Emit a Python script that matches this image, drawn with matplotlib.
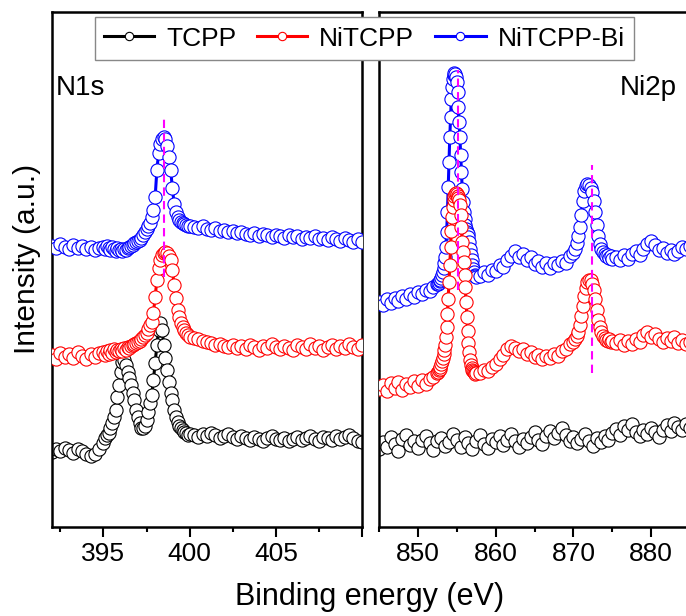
import numpy as np
import matplotlib.pyplot as plt
from matplotlib.lines import Line2D
from matplotlib.ticker import AutoMinorLocator

plt.rcParams['font.family'] = ['Liberation Sans', 'DejaVu Sans']

labels = ['TCPP', 'NiTCPP', 'NiTCPP-Bi']
colors = ['black', 'red', 'blue']

# N1s panel: energy grid (eV) and stacked intensities (a.u.)
n1s_energy = np.concatenate([np.linspace(392, 394.75, 12),
                             np.linspace(395, 400, 51),
                             np.linspace(400.25, 410, 40)])
n1s_tcpp = [75, 78, 76, 79, 77, 74, 78, 76, 73, 71, 73, 78,
            84, 89, 92, 94, 99, 104, 110, 117, 130, 142,
            155, 165, 167, 162, 155, 149, 142, 134, 127, 117,
            110, 104, 99, 99, 101, 107, 115, 124, 132, 147,
            164, 182, 197, 204, 197, 182, 169, 157, 145, 134,
            127, 117, 110, 105, 101, 99, 97, 95, 94, 92, 93,
            92, 90, 93, 91, 94, 92, 89, 91, 93, 90,
            88, 91, 89, 87, 90, 88, 86, 89, 91, 88,
            87, 89, 86, 88, 90, 87, 89, 91, 88, 86,
            90, 89, 87, 91, 88, 90, 92, 89, 86, 85]
n1s_nitcpp = [172, 168, 174, 170, 173, 169, 175, 171, 168, 173, 170, 174,
              175, 172, 176, 173, 177, 174, 178, 175, 177, 176,
              178, 176, 179, 177, 180, 179, 181, 182, 183, 184,
              185, 186, 188, 190, 192, 194, 198, 202, 205, 214,
              230, 247, 259, 267, 272, 274, 275, 274, 271, 267,
              257, 242, 229, 217, 210, 204, 200, 197, 194, 192, 190,
              189, 188, 186, 185, 184, 182, 183, 181, 180, 182,
              179, 181, 178, 182, 180, 177, 181, 179, 183, 180,
              178, 181, 179, 177, 182, 180, 178, 183, 179, 181,
              177, 180, 182, 178, 181, 179, 183, 180, 178, 182]
n1s_nitcpp_bi = [281, 279, 283, 280, 278, 282, 279, 281, 278, 280, 277, 279,
                 280, 278, 281, 279, 277, 280, 278, 276, 279, 277,
                 278, 276, 278, 277, 279, 280, 281, 282, 284, 285,
                 286, 287, 289, 292, 295, 298, 301, 304, 310, 317,
                 330, 357, 374, 383, 388, 390, 388, 381, 370, 357,
                 339, 323, 315, 310, 307, 305, 304, 303, 302, 301, 301,
                 300, 299, 301, 298, 297, 299, 296, 297, 295, 296,
                 294, 295, 293, 292, 294, 291, 293, 292, 290, 292,
                 291, 289, 292, 290, 291, 288, 290, 289, 291, 288,
                 289, 287, 290, 288, 286, 289, 287, 285, 288, 285]

# Ni2p panel
ni2p_energy = np.concatenate([np.linspace(845, 852.5, 16),
                              np.linspace(852.6, 857.5, 50),
                              np.linspace(858, 869.5, 24),
                              np.linspace(870, 875, 26),
                              np.linspace(875.5, 885, 20)])
ni2p_energy_tcpp = np.linspace(845, 885, 81)
ni2p_tcpp = [78, 85, 80, 90, 83, 76, 88, 92, 82, 86,
             79, 87, 91, 84, 77, 86, 89, 81, 85, 93,
             87, 80, 90, 84, 78, 86, 92, 83, 79, 88,
             85, 91, 82, 87, 93, 86, 80, 88, 84, 90,
             95, 87, 83, 91, 96, 89, 94, 99, 92, 86,
             90, 84, 88, 93, 86, 81, 89, 85, 91, 87,
             94, 98, 92, 101, 97, 103, 95, 91, 97, 93,
             99, 95, 90, 97, 102, 96, 104, 100, 97, 103, 99]
ni2p_nitcpp = [138, 142, 136, 144, 139, 145, 137, 143, 140, 146, 141, 147, 143, 148, 150, 154,
               155, 157, 158, 160, 163, 166, 169, 173, 177, 182,
               190, 200, 213, 228, 245, 262, 280, 296, 310, 320,
               327, 331, 333, 334, 333, 331, 329, 327, 322, 312,
               300, 285, 275, 265, 252, 240, 225, 210, 196, 184,
               175, 167, 162, 159, 157, 156, 155, 154, 153, 154,
               154, 157, 156, 160, 163, 168, 172, 178, 181, 179, 176, 178,
               173, 175, 170, 172, 168, 171, 169, 173, 171, 176, 178, 183,
               185, 188, 191, 195, 202, 211, 221, 231, 239, 245, 247, 247, 243,
               237, 228, 217, 207, 200, 195, 191, 189, 187, 186, 188, 185, 186,
               184, 187, 182, 186, 183, 188, 185, 192, 195, 190,
               193, 188, 185, 189, 186, 190, 184, 187, 183, 185]
ni2p_nitcpp_bi = [225, 222, 228, 224, 229, 226, 231, 228, 233, 230, 235, 233, 237, 236, 240, 243,
                  243, 244, 246, 247, 249, 252, 255, 259, 264, 270,
                  280, 295, 315, 340, 365, 390, 410, 428, 440, 448,
                  452, 454, 453, 450, 445, 435, 420, 405, 390, 372,
                  355, 338, 325, 315, 308, 302, 298, 295, 293, 290,
                  285, 278, 272, 267, 262, 258, 255, 252, 251, 250,
                  251, 255, 252, 257, 256, 262, 260, 267, 271, 276, 270, 273,
                  267, 270, 263, 266, 260, 264, 259, 264, 262, 266, 264, 271,
                  274, 278, 284, 291, 300, 312, 326, 336, 341, 343, 342, 339, 335,
                  326, 315, 302, 291, 283, 278, 275, 273, 271, 272, 269, 271, 268,
                  270, 267, 272, 268, 273, 276, 272, 278, 283, 286,
                  282, 277, 279, 274, 277, 273, 276, 280, 278, 281]

# magenta guide lines: (energy, y from, y to)
n1s_guides = [(398.5, 250, 412)]
ni2p_guides = [(855.2, 237, 457), (872.4, 154, 362)]

fig = plt.figure(figsize=(6.86, 6.16), dpi=100)
ax1 = fig.add_axes([0.0754, 0.1445, 0.4523, 0.836])
ax2 = fig.add_axes([0.5525, 0.1445, 0.4534, 0.836])


def draw(ax, x, y, c, z):
    ax.plot(x, y, '-o', color=c, lw=2.2, ms=9.5, mfc='white', mec=c, mew=0.8, zorder=z)


draw(ax1, n1s_energy, n1s_tcpp, colors[0], 2)
draw(ax1, n1s_energy, n1s_nitcpp_bi, colors[2], 3)
draw(ax1, n1s_energy, n1s_nitcpp, colors[1], 4)
draw(ax2, ni2p_energy_tcpp, ni2p_tcpp, colors[0], 2)
draw(ax2, ni2p_energy, ni2p_nitcpp_bi, colors[2], 3)
draw(ax2, ni2p_energy, ni2p_nitcpp, colors[1], 4)

for ax, guides in [(ax1, n1s_guides), (ax2, ni2p_guides)]:
    for e, y0, y1 in guides:
        ax.plot([e, e], [y0, y1], color='magenta', lw=1.5, ls=(0, (4, 2.5)), zorder=10)

ax1.set_xlim(392, 410)
ax2.set_xlim(845, 885)
ax1.set_xticks([395, 400, 405, 410])
ax1.set_xticklabels(['395', '400', '405', ''])
ax2.set_xticks([850, 860, 870, 880])
for ax in (ax1, ax2):
    ax.set_ylim(0, 515)
    ax.set_yticks([])
    ax.xaxis.set_minor_locator(AutoMinorLocator(2))
    ax.tick_params(axis='x', which='major', direction='out', length=7, width=1.5,
                   labelsize=19, pad=4)
    ax.tick_params(axis='x', which='minor', direction='out', length=3.5, width=1.5)
    for s in ax.spines.values():
        s.set_linewidth(1.8)

ax1.text(0.012, 0.852, 'N1s', transform=ax1.transAxes, fontsize=20, ha='left', va='center')
ax2.text(0.958, 0.852, 'Ni2p', transform=ax2.transAxes, fontsize=20, ha='right', va='center')

ax1.set_ylabel('Intensity (a.u.)', fontsize=21.5, va='center')
ax1.yaxis.set_label_coords(-0.08, 0.52)
fig.text(0.539, 0.031, 'Binding energy (eV)', ha='center', va='center', fontsize=22)

handles = [Line2D([], [], color=c, lw=2.2, marker='o', ms=6, mfc='white', mec=c, mew=0.8)
           for c in colors]
leg = fig.legend(handles, labels, loc='center', bbox_to_anchor=(0.531, 0.9375), ncol=3,
                 fontsize=19, frameon=True, fancybox=False, edgecolor='#888888',
                 framealpha=1, handlelength=1.9, handletextpad=0.45, columnspacing=0.8,
                 borderpad=0.35)
leg.get_frame().set_linewidth(1.0)

fig.savefig('out.png', dpi=100)
